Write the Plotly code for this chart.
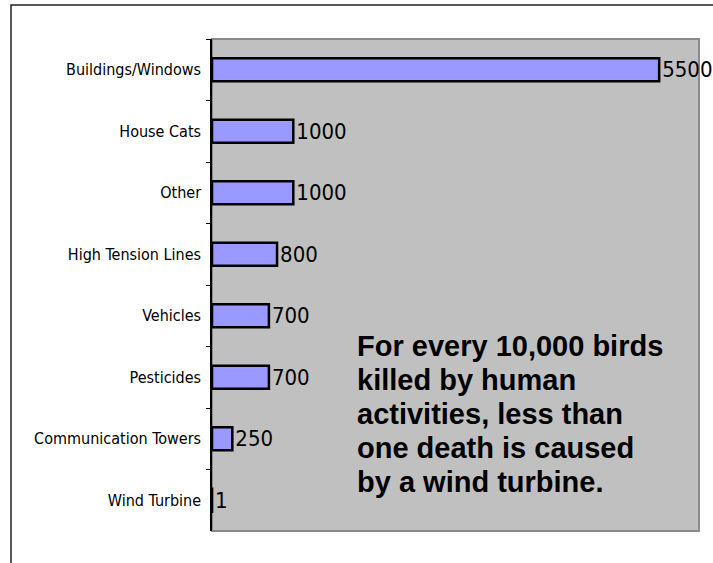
import plotly.graph_objects as go

categories = ["Buildings/Windows", "House Cats", "Other", "High Tension Lines",
              "Vehicles", "Pesticides", "Communication Towers", "Wind Turbine"]
values = [5500, 1000, 1000, 800, 700, 700, 250, 1]
value_labels = ["5500", "1000", "1000", "800", "700", "700", "250", "1"]
note_lines = ["For every 10,000 birds", "killed by human", "activities, less than",
              "one death is caused", "by a wind turbine."]

W, H = 713, 563
ML, MR, MT, MB = 212, 14, 39, 32
pw = W - ML - MR
ph = H - MT - MB

def px(x):
    return (x - ML) / pw

def py(y):
    return (H - MB - y) / ph

narrow = "DejaVu Sans Condensed, Liberation Sans Narrow, Arial Narrow, sans-serif"
bold_font = "Liberation Sans, Arial, sans-serif"

fig = go.Figure()
fig.add_trace(go.Bar(
    y=categories, x=values, orientation="h",
    marker=dict(color="#9999FF", line=dict(color="black", width=2.5)),
    text=value_labels, textposition="outside", cliponaxis=False,
    constraintext="none",
    textfont=dict(family=narrow, size=22, color="black"),
    width=0.37,
))

# note text, one annotation per line (baselines ~34 px apart)
annotations = []
for i, line in enumerate(note_lines):
    baseline = 356 + 34 * i
    annotations.append(dict(
        xref="paper", yref="paper", x=px(355), y=py(baseline - 10),
        xanchor="left", yanchor="middle", align="left", showarrow=False,
        text=line,
        font=dict(family=bold_font, size=29, color="black", weight="bold"),
    ))

fig.update_layout(
    width=W, height=H,
    margin=dict(l=ML, r=MR, t=MT, b=MB, pad=0),
    paper_bgcolor="white", plot_bgcolor="rgba(0,0,0,0)",
    showlegend=False,
    xaxis=dict(range=[0, 5990], showticklabels=False, showgrid=False,
               zeroline=False, ticks="", showline=False, fixedrange=True),
    yaxis=dict(autorange="reversed", showgrid=False, zeroline=False,
               showline=True, linecolor="black", linewidth=1.5,
               ticks="outside", ticklen=4, tickcolor="black", tickson="boundaries",
               tickfont=dict(family=narrow, size=16, color="black"),
               ticklabelstandoff=6),
    font=dict(family=narrow),
    shapes=[
        # outer border
        dict(type="rect", xref="paper", yref="paper",
             x0=px(11), x1=px(760), y0=py(620), y1=py(5),
             line=dict(color="#222222", width=1.5), fillcolor="rgba(0,0,0,0)", layer="below"),
        # plot-area background with grey frame
        dict(type="rect", xref="paper", yref="paper",
             x0=0, x1=1, y0=0, y1=1,
             line=dict(color="#8a8a8a", width=2), fillcolor="#C0C0C0", layer="below"),
    ],
    annotations=annotations,
)

fig.write_html("out.html")
